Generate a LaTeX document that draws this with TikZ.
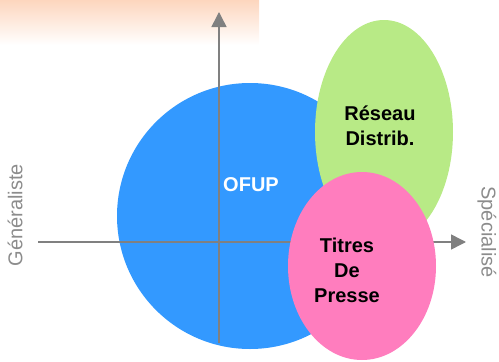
\documentclass[tikz,border=0pt]{standalone}
\usepackage{fontspec}
\setmainfont{Liberation Sans}
\usetikzlibrary{arrows.meta,shapes.geometric}

\definecolor{peach}{RGB}{253,214,190}
\definecolor{axisgray}{RGB}{128,128,128}
\definecolor{textgray}{RGB}{140,140,140}
\definecolor{ofupblue}{RGB}{51,153,255}
\definecolor{reseaugreen}{RGB}{184,234,134}
\definecolor{titrespink}{RGB}{255,125,190}

\begin{document}
\begin{tikzpicture}[x=1pt,y=-1pt,
    blob/.style={ellipse,inner sep=0pt},
    axis/.style={draw=axisgray,line width=1.5pt,-{Triangle[length=15pt,width=15pt]}},
    bigtext/.style={font=\fontsize{20}{25}\selectfont\bfseries,align=center},
    sidetext/.style={font=\fontsize{20}{24}\selectfont,text=textgray}]
    \useasboundingbox (0,0) rectangle (499,362);
    \shade[top color=peach,bottom color=white] (0,0) rectangle (259,45);

    \node[blob,fill=ofupblue,minimum width=266pt,minimum height=266pt] (ofup) at (250,216) {};

    % axes
    \coordinate (west) at (38,242);
    \coordinate (east) at (466,242);
    \coordinate (south) at (219,343);
    \coordinate (north) at (219,12);
    \draw[axis] (south) -- (north);
    \draw[axis] (west) -- (east);

    \node[blob,fill=reseaugreen,minimum width=138pt,minimum height=224pt] (reseau) at (384,132) {};
    \node[blob,fill=titrespink,minimum width=148pt,minimum height=188pt] (titres) at (362,266) {};

    \node[bigtext,text=white] (ofuptext) at (251,185) {OFUP};
    \node[bigtext] (reseautext) at (380,126) {Réseau\\Distrib.};
    \node[bigtext] (titrestext) at (347,270) {Titres\\De\\Presse};

    \node[sidetext,rotate=90] (gen) at (15,215) {Généraliste};
    \node[sidetext,rotate=-90] (spe) at (487,232) {Spécialisé};
\end{tikzpicture}
\end{document}
